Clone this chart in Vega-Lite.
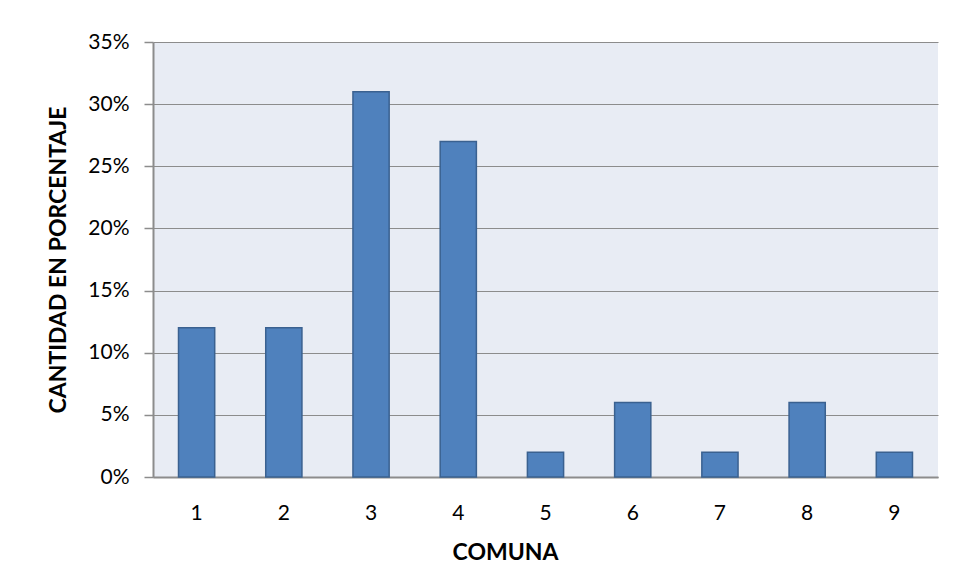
{
  "$schema": "https://vega.github.io/schema/vega-lite/v6.json",
  "width": 785,
  "height": 435,
  "autosize": {"type": "none"},
  "padding": {"left": 153, "top": 42, "right": 16, "bottom": 103},
  "background": "white",
  "data": {
    "values": [
      {"comuna": "1", "pct": 0.12},
      {"comuna": "2", "pct": 0.12},
      {"comuna": "3", "pct": 0.31},
      {"comuna": "4", "pct": 0.27},
      {"comuna": "5", "pct": 0.02},
      {"comuna": "6", "pct": 0.06},
      {"comuna": "7", "pct": 0.02},
      {"comuna": "8", "pct": 0.06},
      {"comuna": "9", "pct": 0.02}
    ]
  },
  "mark": {"type": "bar", "color": "#4F81BD", "stroke": "#3A6190", "strokeWidth": 1.5},
  "encoding": {
    "x": {
      "field": "comuna",
      "type": "ordinal",
      "title": "COMUNA",
      "scale": {"paddingInner": 0.585, "paddingOuter": 0.2925},
      "axis": {
        "labelAngle": 0,
        "ticks": false,
        "labelFont": "Lato",
        "labelFontSize": 21,
        "labelColor": "#000000",
        "labelPadding": 25,
        "titleFont": "Lato",
        "titleFontSize": 23,
        "titleFontWeight": "bold",
        "titleColor": "#000000",
        "titlePadding": 18,
        "titleX": 352
      }
    },
    "y": {
      "field": "pct",
      "type": "quantitative",
      "title": "CANTIDAD EN PORCENTAJE",
      "scale": {"domain": [0, 0.35], "nice": false},
      "axis": {
        "values": [0, 0.05, 0.1, 0.15, 0.2, 0.25, 0.3, 0.35],
        "format": ".0%",
        "domainColor": "#8C8C8C",
        "domainWidth": 2,
        "tickColor": "#8C8C8C",
        "tickSize": 9,
        "tickWidth": 1.5,
        "gridColor": "#8C8C8C",
        "gridWidth": 1.2,
        "labelFont": "Lato",
        "labelFontSize": 21,
        "labelColor": "#000000",
        "labelPadding": 15,
        "titleFont": "Lato",
        "titleFontSize": 23,
        "titleFontWeight": "bold",
        "titleColor": "#000000",
        "titlePadding": 17
      }
    }
  },
  "config": {
    "view": {"fill": "#E8ECF4", "stroke": null},
    "axisX": {"domain": true, "domainColor": "#8C8C8C", "domainWidth": 2}
  }
}
